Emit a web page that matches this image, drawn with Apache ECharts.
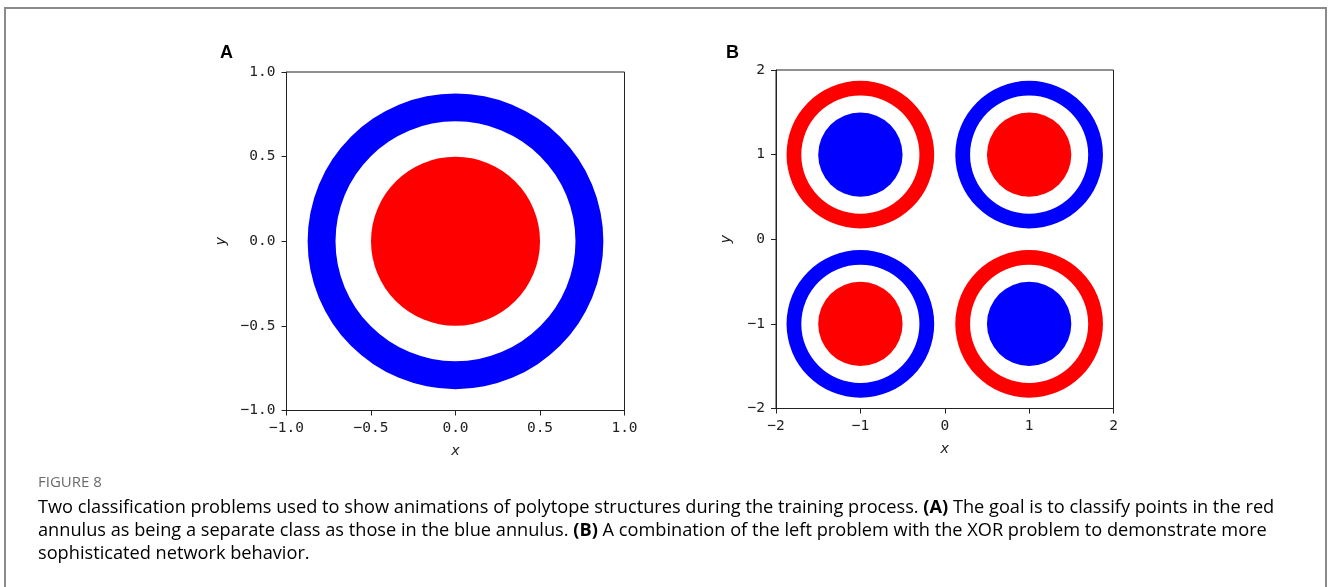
<!DOCTYPE html>
<html>
<head>
<meta charset="utf-8">
<script src="https://cdn.jsdelivr.net/npm/echarts@6/dist/echarts.min.js"></script>
<style>
html,body{margin:0;padding:0;background:#fff;}
#c{width:1328px;height:587px;}
</style>
</head>
<body>
<div id="c"></div>
<script>
// ---- data ----
// shapes: [centerX, centerY, innerRadius, outerRadius, class]
const shapesA = [
  [0, 0, 0.71, 0.875, 'blue'],
  [0, 0, 0, 0.5, 'red']
];
const shapesB = [
  [-1, 1, 0.70, 0.875, 'red'],
  [-1, 1, 0, 0.5, 'blue'],
  [1, 1, 0.70, 0.875, 'blue'],
  [1, 1, 0, 0.5, 'red'],
  [-1, -1, 0.70, 0.875, 'blue'],
  [-1, -1, 0, 0.5, 'red'],
  [1, -1, 0.70, 0.875, 'red'],
  [1, -1, 0, 0.5, 'blue']
];
const ticksA = [-1.0, -0.5, 0.0, 0.5, 1.0];
const ticksB = [-2, -1, 0, 1, 2];
const panelLabels = ['A', 'B'];
const figureLabel = 'FIGURE 8';
const captionLines = [
  ['Two classification problems used to show animations of polytope structures during the training process. ', '(A)', ' The goal is to classify points in the red'],
  ['annulus as being a separate class as those in the blue annulus. ', '(B)', ' A combination of the left problem with the XOR problem to demonstrate more'],
  ['sophisticated network behavior.']
];

const classColor = { red: '#ff0000', blue: '#0000ff' };
const mono = 'DejaVu Sans Mono';
const fmtA = v => (v < 0 ? '\u2212' : '') + Math.abs(v).toFixed(1);
const fmtB = v => (v < 0 ? '\u2212' : '') + Math.abs(v).toFixed(0);

function renderShape(params, api) {
  const c = api.coord([api.value(0), api.value(1)]);
  const r0 = api.size([api.value(2), api.value(2)])[0];
  const r = api.size([api.value(3), api.value(3)])[0];
  const fill = classColor[api.value(4)];
  if (r0 > 0) {
    return { type: 'ring', shape: { cx: c[0], cy: c[1], r: r, r0: r0 }, style: { fill: fill } };
  }
  return { type: 'circle', shape: { cx: c[0], cy: c[1], r: r }, style: { fill: fill } };
}

function makeAxis(idx, ticks, fmt, isX, name) {
  return {
    type: 'value', gridIndex: idx,
    min: ticks[0], max: ticks[ticks.length - 1],
    interval: ticks[1] - ticks[0],
    name: name, nameLocation: 'middle',
    nameGap: isX ? 33 : (idx === 0 ? 58 : 42),
    nameRotate: isX ? 0 : 90,
    nameTextStyle: { fontFamily: mono, fontStyle: 'italic', fontSize: 14.5, color: '#222' },
    axisLine: { show: true, onZero: false, lineStyle: { color: '#222', width: 1 } },
    axisTick: { show: true, inside: false, length: 5, lineStyle: { color: '#222' } },
    axisLabel: { fontFamily: mono, fontSize: 14.5, color: '#222', margin: isX ? 10 : 11, formatter: fmt, showMinLabel: true, showMaxLabel: true },
    splitLine: { show: false }
  };
}

const chart = echarts.init(document.getElementById('c'), null, { renderer: 'canvas' });

const captionRich = captionLines.map(parts => parts.map((p, i) => (parts.length === 3 && i === 1) ? '{b|' + p + '}' : '{n|' + p + '}').join('')).join('\n');

chart.setOption({
  animation: false,
  backgroundColor: '#fff',
  grid: [
    { left: 286.5, top: 72, width: 338, height: 338.5, show: true, borderColor: '#222', borderWidth: 1, backgroundColor: 'transparent' },
    { left: 776, top: 70, width: 337.5, height: 338.5, show: true, borderColor: '#222', borderWidth: 1, backgroundColor: 'transparent' }
  ],
  xAxis: [makeAxis(0, ticksA, fmtA, true, 'x'), makeAxis(1, ticksB, fmtB, true, 'x')],
  yAxis: [makeAxis(0, ticksA, fmtA, false, 'y'), makeAxis(1, ticksB, fmtB, false, 'y')],
  series: [
    { type: 'custom', xAxisIndex: 0, yAxisIndex: 0, data: shapesA, renderItem: renderShape, clip: false, encode: { x: 0, y: 1 } },
    { type: 'custom', xAxisIndex: 1, yAxisIndex: 1, data: shapesB, renderItem: renderShape, clip: false, encode: { x: 0, y: 1 } }
  ],
  graphic: [
    { type: 'rect', shape: { x: 5, y: 8, width: 1321, height: 600 }, style: { fill: 'none', stroke: '#8a8a8a', lineWidth: 2 }, silent: true },
    { type: 'text', left: 220, top: 44, style: { text: panelLabels[0], font: 'bold 18px "Liberation Sans", Arial, sans-serif', fill: '#000' } },
    { type: 'text', left: 726, top: 44, style: { text: panelLabels[1], font: 'bold 18px "Liberation Sans", Arial, sans-serif', fill: '#000' } },
    { type: 'text', left: 38, top: 475, style: { text: figureLabel, font: '15px "Open Sans", sans-serif', fill: '#6b6b6b' } },
    { type: 'text', left: 38, top: 496, style: {
        text: captionRich, lineHeight: 23.3,
        rich: {
          n: { fontFamily: 'Open Sans', fontSize: 18.2, color: '#5a5a5a', lineHeight: 23.3 },
          b: { fontFamily: 'Open Sans', fontSize: 18.2, fontWeight: 'bold', color: '#5a5a5a', lineHeight: 23.3 }
        }
      } }
  ]
});
</script>
</body>
</html>
